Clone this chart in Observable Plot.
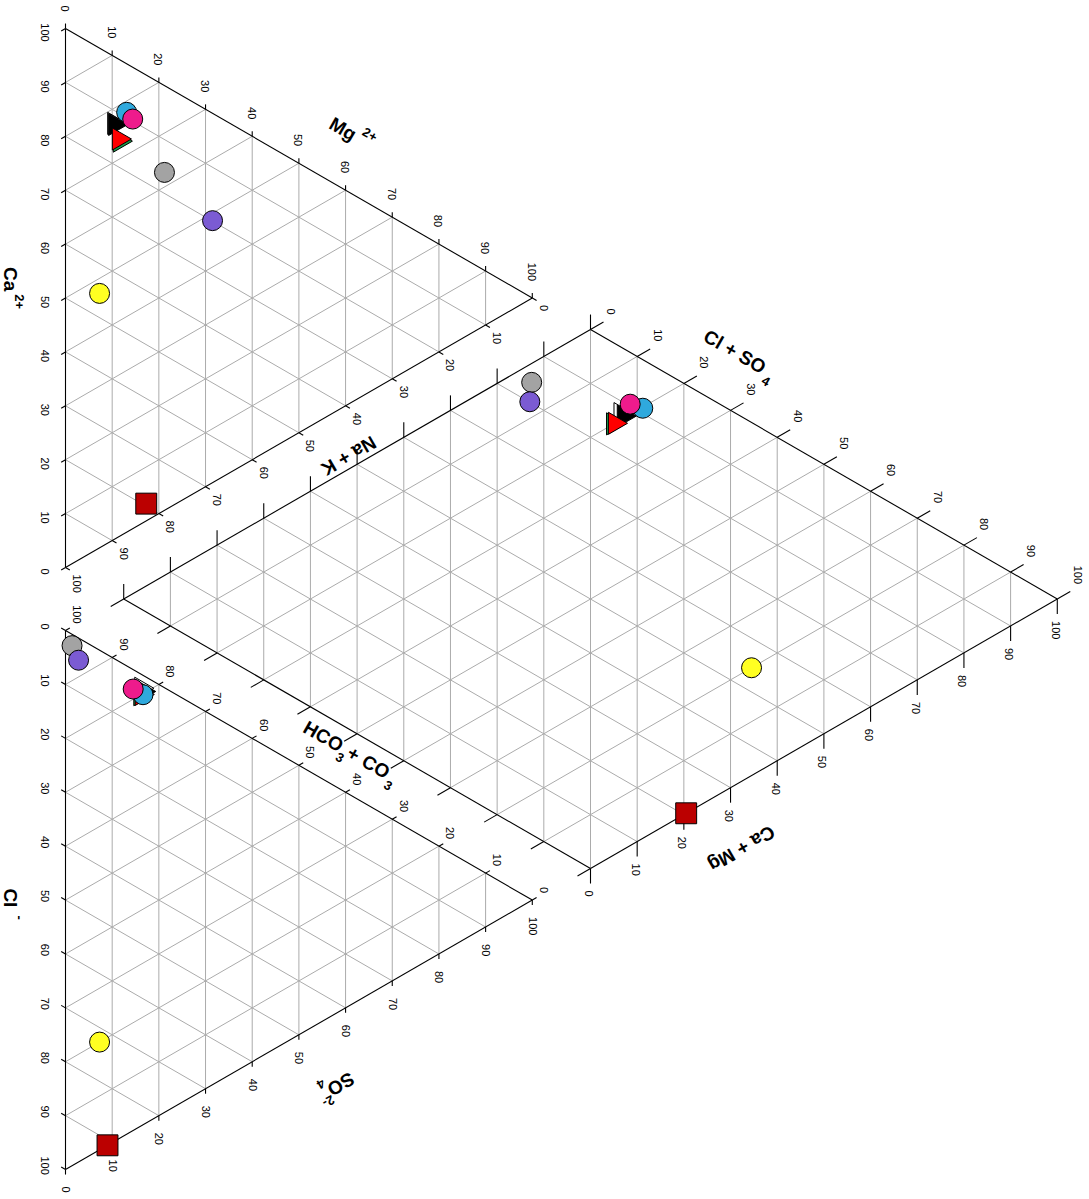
<!DOCTYPE html>
<html>
<head>
<meta charset="utf-8">
<title>Piper diagram</title>
<script src="https://cdn.jsdelivr.net/npm/d3@7"></script>
<script src="https://cdn.jsdelivr.net/npm/@observablehq/plot@0.6"></script>
<style>
  html, body { margin: 0; padding: 0; background: #ffffff; }
  #chart { position: relative; width: 1089px; height: 1199px; overflow: hidden; background: #ffffff; }
  /* the diagram is laid out upright, then turned a quarter turn clockwise */
  #chart > svg { position: absolute; left: 0; top: 0; transform-origin: 0 0; transform: translate(1089px, 0) rotate(90deg); }
</style>
</head>
<body>
<div id="chart"></div>
<script>
// ---- samples: percent of total cations and anions (meq basis) ----
const sampleIds   = ["S1", "S2", "S3", "S4", "S5", "S6", "S7", "S8", "S9", "S10"];
const sampleShape = ["triangle", "triangle", "triangle", "triangle", "circle", "circle", "circle", "circle", "circle", "square"];
const sampleFill  = ["#ffffff", "#000000", "#1d9e4b", "#ff0000", "#a3a3a3", "#7b5bd3", "#2fa9dd", "#ee1b8c", "#ffff22", "#bb0000"];
const caPct   = [77.2, 76.9, 73.3, 73.8, 62.7, 48.6, 77.9, 76.0, 47.2,  3.2];
const mgPct   = [10.4, 10.6, 11.6, 11.4, 21.2, 31.5, 13.1, 14.4,  7.3, 17.3];
const naKPct  = [12.4, 12.5, 15.1, 14.8, 16.1, 19.9,  9.0,  9.6, 45.5, 79.5];
const hco3Pct = [81.2, 80.4, 80.1, 80.0, 96.5, 93.1, 79.8, 81.9, 20.0,  0.0];
const clPct   = [ 2.6,  3.0,  3.9,  3.7,  2.1,  4.1,  3.6,  3.6, 72.7, 91.0];
const so4Pct  = [16.2, 16.6, 16.0, 16.3,  1.4,  2.8, 16.6, 14.5,  7.3,  9.0];

// ---- axis ticks ----
const tickValues = [0, 10, 20, 30, 40, 50, 60, 70, 80, 90, 100];
const gridValues = [10, 20, 30, 40, 50, 60, 70, 80, 90];
const tickLabels = tickValues.map(String);

// ---- layout (percent units; one triangle side = 100) ----
const PX = 5.39;                // pixels per percent
const GAP = 11.7;               // space between the cation and anion triangles
const LIFT = 10.8;              // height of the diamond's lower corner above the base line
const S3 = Math.sqrt(3) / 2;
const W = 1199, HGT = 1089;     // drawing size before the quarter turn
const LEFT = 28, BASE = 1023;   // pixel spot of the Ca corner

const cation  = (ca, mg, na) => [na + mg / 2, mg * S3];
const anion   = (hco3, cl, so4) => [100 + GAP + cl + so4 / 2, so4 * S3];
const dLow    = [100 + GAP / 2, LIFT];
const diamond = (camg, clso4) => [dLow[0] + (clso4 - camg) / 2, dLow[1] + (camg + clso4) * S3];
const nudge   = (p, dx, dy) => [p[0] + dx / PX, p[1] - dy / PX];   // pixel offset, y down
const seg     = (a, b) => ({x1: a[0], y1: a[1], x2: b[0], y2: b[1]});

// ---- grid lines ----
const grid = [];
for (const k of gridValues) {
  grid.push(seg(cation(k, 0, 100 - k), cation(k, 100 - k, 0)));
  grid.push(seg(cation(100 - k, k, 0), cation(0, k, 100 - k)));
  grid.push(seg(cation(100 - k, 0, k), cation(0, 100 - k, k)));
  grid.push(seg(anion(k, 100 - k, 0), anion(k, 0, 100 - k)));
  grid.push(seg(anion(100 - k, 0, k), anion(0, 100 - k, k)));
  grid.push(seg(anion(100 - k, k, 0), anion(0, k, 100 - k)));
  grid.push(seg(diamond(k, 0), diamond(k, 100)));
  grid.push(seg(diamond(0, k), diamond(100, k)));
}
for (let s = 10; s < 200; s += 10) {
  grid.push(s <= 100 ? seg(diamond(s, 0), diamond(0, s)) : seg(diamond(100, s - 100), diamond(s - 100, 100)));
}

// ---- outlines ----
const frame = [
  seg(cation(100, 0, 0), cation(0, 0, 100)), seg(cation(0, 0, 100), cation(0, 100, 0)), seg(cation(0, 100, 0), cation(100, 0, 0)),
  seg(anion(100, 0, 0), anion(0, 100, 0)), seg(anion(0, 100, 0), anion(0, 0, 100)), seg(anion(0, 0, 100), anion(100, 0, 0)),
  seg(diamond(0, 0), diamond(100, 0)), seg(diamond(100, 0), diamond(100, 100)),
  seg(diamond(100, 100), diamond(0, 100)), seg(diamond(0, 100), diamond(0, 0))
];

// ---- axes: where each value sits, which way its tick points, where its label goes ----
const axes = [
  {at: k => cation(k, 0, 100 - k),  dir: [0.5, S3],   len: 5,  label: {anchor: "middle", dx: 4,   dy: 21}},   // Ca
  {at: k => cation(100 - k, k, 0),  dir: [-1, 0],     len: 5,  label: {anchor: "end",    dx: -17, dy: 1}},    // Mg
  {at: k => cation(0, 100 - k, k),  dir: [0.5, -S3],  len: 5,  label: {anchor: "start",  dx: 7,   dy: -11}},  // Na + K
  {at: k => anion(100 - k, k, 0),   dir: [-0.5, S3],  len: 5,  label: {anchor: "middle", dx: -4,  dy: 21}},   // Cl
  {at: k => anion(0, 100 - k, k),   dir: [1, 0],      len: 5,  label: {anchor: "start",  dx: 17,  dy: 0}},    // SO4
  {at: k => anion(k, 0, 100 - k),   dir: [-0.5, -S3], len: 5,  label: {anchor: "end",    dx: -7,  dy: -11}},  // HCO3 + CO3
  {at: k => diamond(100, k),        dir: [-0.5, -S3], len: 15, label: {anchor: "end",    dx: -15, dy: -20}},  // Cl + SO4
  {at: k => diamond(k, 100),        dir: [1, 0],      len: 15, label: {anchor: "start",  dx: 22,  dy: 2}},    // Ca + Mg
  {at: k => diamond(k, 0),          dir: [-1, 0],     len: 15, label: null},
  {at: k => diamond(0, k),          dir: [0.5, S3],   len: 15, label: null}
];
const ticks = [], labels = [];
for (const ax of axes) {
  tickValues.forEach((k, i) => {
    const p = ax.at(k);
    ticks.push(seg(p, nudge(p, ax.dir[0] * ax.len, ax.dir[1] * ax.len)));
    if (ax.label) {
      const q = nudge(p, ax.label.dx, ax.label.dy);
      labels.push({x: q[0], y: q[1], text: tickLabels[i], anchor: ax.label.anchor});
    }
  });
}

// ---- axis titles, with sub- and superscripts set piece by piece ----
const measure = document.createElement("canvas").getContext("2d");
function widthOf(text, size) {
  measure.font = `bold ${size}px "Liberation Sans", Arial, sans-serif`;
  return measure.measureText(text).width;
}
function title(anchor, offset, angle, parts) {
  const a = angle * Math.PI / 180;
  const along = [Math.cos(a), Math.sin(a)], up = [Math.sin(a), -Math.cos(a)];
  let pos = 0, lastStart = 0;
  const placed = parts.map(p => {
    const w = widthOf(p.text, p.size);
    const start = p.stack ? lastStart : pos + (p.gap || 0);
    if (!p.stack) { pos = start + w; lastStart = start; }
    return {...p, c: start + w / 2};
  });
  return placed.map(p => {
    const t = p.c - pos / 2, lift = p.lift || 0;
    const q = nudge(anchor, offset[0] + along[0] * t + up[0] * lift, offset[1] + along[1] * t + up[1] * lift);
    return {x: q[0], y: q[1], text: p.text, size: p.size, rotate: angle};
  });
}
const BIG = 19, SMALL = 13;
const titles = [
  title(cation(50, 50, 0), [-28.9, -52.3], -60, [{text: "Mg", size: BIG}, {text: "2+", size: SMALL, lift: 9, gap: 5}]),
  title(cation(0, 50, 50), [22.75, -49.6], 60, [{text: "Na + K", size: BIG}]),
  title(cation(50, 0, 50), [-10, 55], 0, [{text: "Ca", size: BIG}, {text: "2+", size: SMALL, lift: 9, gap: 3}]),
  title(anion(50, 0, 50), [-12.8, -51.6], -60, [
    {text: "HCO", size: BIG}, {text: "3", size: SMALL, lift: -10}, {text: "+", size: BIG, gap: 1},
    {text: "CO", size: BIG, gap: 6}, {text: "3", size: SMALL, lift: -10, gap: 2}]),
  title(anion(0, 50, 50), [50.7, -38.6], 60, [{text: "SO", size: BIG}, {text: "4", size: SMALL, lift: -10}, {text: "2-", size: SMALL, lift: 9, stack: true}]),
  title(anion(50, 50, 0), [4, 55], 0, [{text: "Cl", size: BIG}, {text: "-", size: SMALL, lift: 9, gap: 8}]),
  title(diamond(100, 50), [-109.5, 84.5], -60, [{text: "Cl + SO", size: BIG}, {text: "4", size: SMALL, lift: -10, gap: 4}]),
  title(diamond(50, 100), [114.5, 82.5], 60, [{text: "Ca + Mg", size: BIG}])
].flat();

// ---- sample positions in the three fields ----
const points = [];
sampleIds.forEach((id, i) => {
  const spots = [
    cation(caPct[i], mgPct[i], naKPct[i]),
    anion(hco3Pct[i], clPct[i], so4Pct[i]),
    diamond(caPct[i] + mgPct[i], clPct[i] + so4Pct[i])
  ];
  for (const [x, y] of spots) points.push({id, x, y, shape: sampleShape[i], fill: sampleFill[i]});
});
const sizeOf = {triangle: 8.2, circle: 10, square: 11.8};
const dots = ["triangle", "circle", "square"].map(shape =>
  Plot.dot(points.filter(d => d.shape === shape), {
    x: "x", y: "y", fill: "fill", symbol: shape, r: sizeOf[shape], stroke: "#000000", strokeWidth: 1
  })
);

const chart = Plot.plot({
  width: W,
  height: HGT,
  margin: 0,
  x: {domain: [-LEFT / PX, (W - LEFT) / PX], range: [0, W], axis: null},
  y: {domain: [-(HGT - BASE) / PX, BASE / PX], range: [HGT, 0], axis: null},
  style: {background: "#ffffff", maxWidth: "none", fontFamily: "'Liberation Sans', Arial, sans-serif"},
  marks: [
    Plot.link(grid, {x1: "x1", y1: "y1", x2: "x2", y2: "y2", stroke: "#ababab", strokeWidth: 1}),
    Plot.link(frame, {x1: "x1", y1: "y1", x2: "x2", y2: "y2", stroke: "#000000", strokeWidth: 1.1}),
    Plot.link(ticks, {x1: "x1", y1: "y1", x2: "x2", y2: "y2", stroke: "#000000", strokeWidth: 1.1}),
    ...["start", "middle", "end"].map(anchor =>
      Plot.text(labels.filter(d => d.anchor === anchor), {
        x: "x", y: "y", text: "text", textAnchor: anchor, lineAnchor: "middle", fontSize: 11, fill: "#000000"
      })
    ),
    Plot.text(titles, {
      x: "x", y: "y", text: "text", fontSize: d => d.size, rotate: d => d.rotate,
      textAnchor: "middle", lineAnchor: "middle", fontWeight: "bold", fill: "#000000"
    }),
    ...dots
  ]
});
document.getElementById("chart").appendChild(chart);
</script>
</body>
</html>
